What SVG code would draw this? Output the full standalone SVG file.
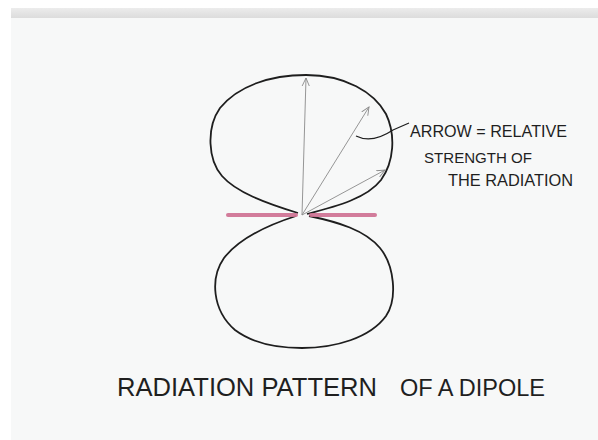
<svg xmlns="http://www.w3.org/2000/svg" width="598" height="440" viewBox="0 0 598 440">
<style>
.lobe{fill:none;stroke:#1e1e1e;stroke-width:1.8;stroke-linejoin:round}
.arr{fill:none;stroke:#8a8a8a;stroke-width:0.9}
.pink{stroke:#cf6f91;stroke-width:4;stroke-linecap:round;opacity:0.9}
.lbl{font-family:"Liberation Sans","DejaVu Sans",sans-serif;fill:#1f1f1f}
</style>
<defs>
<linearGradient id="band" x1="0" y1="0" x2="0" y2="1">
<stop offset="0" stop-color="#ececec"/>
<stop offset="1" stop-color="#dcdcdc"/>
</linearGradient>
<marker id="open" viewBox="0 0 10 10" refX="9" refY="5" markerWidth="9" markerHeight="9" markerUnits="userSpaceOnUse" orient="auto">
<path d="M0,1 L9,5 L0,9" fill="none" stroke="#8a8a8a" stroke-width="1"/>
</marker>
</defs>
<rect width="598" height="440" fill="#ffffff"/>
<rect x="11" y="8" width="587" height="432" fill="#f7f8f8"/>
<rect x="11" y="8" width="587" height="10" fill="url(#band)"/>
<g id="upper-lobe">
<path class="lobe" d="M298,213 C265,203 236,192 222,176 C208,160 206,128 220,108 C238,86 270,75 306,75 C345,75 374,92 386,114 C396,135 394,162 381,180 C367,198 338,206 307,214"/>
</g>
<g id="lower-lobe">
<path class="lobe" d="M296,216 C265,226 238,240 224,258 C210,278 212,310 235,330 C255,345 280,348 302,348 C335,348 370,338 386,316 C398,298 394,265 380,248 C365,230 338,222 309,216"/>
</g>
<g id="dipole">
<line class="pink" x1="228" y1="215" x2="296" y2="215"/>
<line class="pink" x1="311" y1="215" x2="375" y2="215"/>
</g>
<g id="connectors">
<line class="arr" x1="302" y1="215" x2="306" y2="78" marker-end="url(#open)"/>
<line class="arr" x1="302" y1="215" x2="369" y2="107" marker-end="url(#open)"/>
<line class="arr" x1="302" y1="215" x2="385" y2="170" marker-end="url(#open)"/>
<path d="M356,136 Q372,144 393,130 L409,123" fill="none" stroke="#1e1e1e" stroke-width="1.2"/>
</g>
<g id="annotation">
<text class="lbl" x="410" y="137" font-size="17" textLength="157" lengthAdjust="spacingAndGlyphs">ARROW = RELATIVE</text>
<text class="lbl" x="424" y="163" font-size="15" textLength="108" lengthAdjust="spacingAndGlyphs">STRENGTH OF</text>
<text class="lbl" x="448" y="186" font-size="16" textLength="125" lengthAdjust="spacingAndGlyphs">THE RADIATION</text>
</g>
<g id="title">
<text class="lbl" x="117" y="396" font-size="26" textLength="260" lengthAdjust="spacingAndGlyphs">RADIATION PATTERN</text>
<text class="lbl" x="400" y="396" font-size="24" textLength="145" lengthAdjust="spacingAndGlyphs">OF A DIPOLE</text>
</g>
</svg>
